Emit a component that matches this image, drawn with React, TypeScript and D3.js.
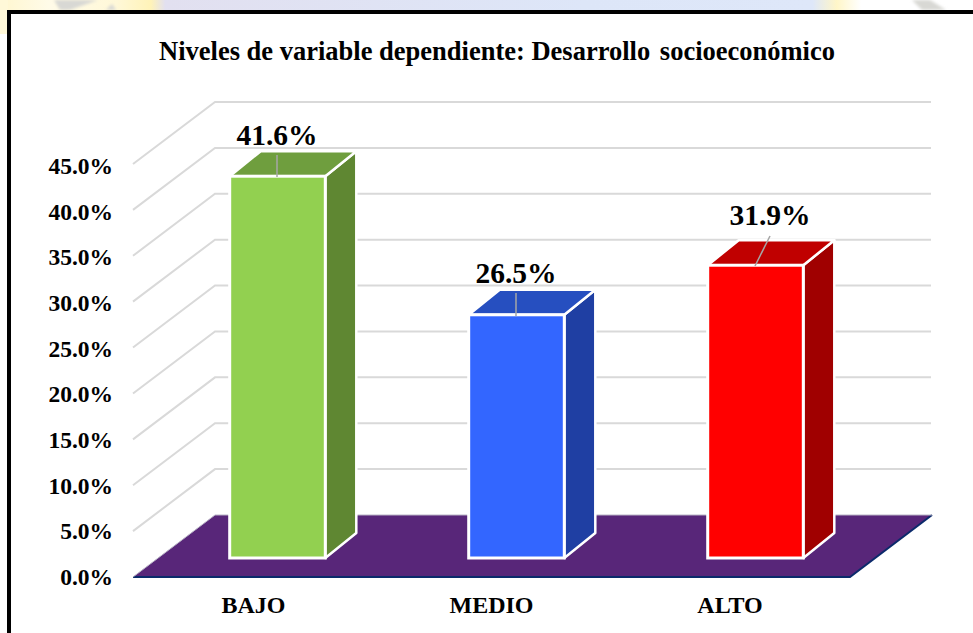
import React from "react";
import * as d3 from "d3";

const categories = ["BAJO", "MEDIO", "ALTO"];
const values = [41.6, 26.5, 31.9];
const labels = ["41.6%", "26.5%", "31.9%"];
const frontColors = ["#92d050", "#3366ff", "#ff0000"];
const topColors = ["#6f9e3e", "#264fc0", "#c00000"];
const sideColors = ["#5f8732", "#1f3fa3", "#a00000"];
const ticks = [0, 5, 10, 15, 20, 25, 30, 35, 40, 45];
const titleStart = "Niveles de variable dependiente: Desarrollo";
const titleEnd = "socioeconómico";
const font = "'Liberation Serif', 'Times New Roman', serif";

const W = 973, H = 633;
const left = 133, right = 850, baseY = 577;
const floorDx = 82, floorDy = -62;
const barOffX = 25, barOffY = -19;
const depthX = 31, depthY = -25;

const y = d3.scaleLinear().domain([0, 45]).range([baseY, 164]);
const x = d3.scaleBand<string>().domain(categories).range([left + barOffX, right + barOffX]).paddingInner(0.6).paddingOuter(0.3);
const poly = (pts: [number, number][]) => d3.line()(pts) + "Z";
const labelPos: [number, number, number, number, number, number][] = [
  [277, 145, 277, 155, 277, 177],
  [516, 283, 516, 293, 516, 316],
  [770, 225, 770, 236, 755, 266],
];
const categoryCenters = [253.5, 491.5, 730];

export default function App() {
  const floorY = y(0);
  return (
    <svg width={W} height={H} viewBox={`0 0 ${W} ${H}`} style={{ position: "fixed", left: 0, top: 0, display: "block" }}>
      <defs>
        <linearGradient id="bgStrip" x1="0" x2="1" y1="0" y2="0">
          <stop offset="0" stopColor="#fff6cf" />
          <stop offset="0.05" stopColor="#fffbe8" />
          <stop offset="0.12" stopColor="#fff8d8" />
          <stop offset="0.155" stopColor="#fff3b8" />
          <stop offset="0.17" stopColor="#e2e0f0" />
          <stop offset="0.6" stopColor="#dde6f8" />
          <stop offset="0.835" stopColor="#dee7f9" />
          <stop offset="0.86" stopColor="#fff6c8" />
          <stop offset="0.885" stopColor="#ffffff" />
          <stop offset="1" stopColor="#ffffff" />
        </linearGradient>
        <filter id="soft"><feGaussianBlur stdDeviation="1.5" /></filter>
      </defs>
      <rect width={W} height={H} fill="#ffffff" />
      <rect width={W} height={12} fill="url(#bgStrip)" />
      <rect x={0} y={0} width={8} height={34} fill="#fff8d8" />
      <g filter="url(#soft)" fill="#d8d8d4">
        <path d="M54,0 L98,0 L70,10 L60,10 Z" />
        <path d="M106,10 L112,4 L116,10 Z" />
        <path d="M912,0 L930,0 L946,10 L922,10 Z" />
      </g>
      <rect x={9} y={12} width={W} height={H} fill="#ffffff" stroke="#000000" strokeWidth={4} />

      <text x={497} y={60} textAnchor="middle" fontFamily={font} fontWeight="bold" fontSize={26.5} fill="#000">
        {titleStart}<tspan dx={3}> {titleEnd}</tspan>
      </text>

      {ticks.filter((t) => t > 0).map((t) => (
        <path key={t} d={d3.line()([[left, y(t)], [left + floorDx, y(t) + floorDy], [right + floorDx - 1, y(t) + floorDy]])!} fill="none" stroke="#d9d9d9" strokeWidth={2} />
      ))}

      <path d={poly([[left, floorY], [left + floorDx, floorY + floorDy], [right + floorDx, floorY + floorDy], [right, floorY]])} fill="#582679" />
      <path d={d3.line()([[left, floorY], [right, floorY], [right + floorDx, floorY + floorDy]])!} fill="none" stroke="#0b2a6b" strokeWidth={2} />
      <path d={d3.line()([[left, floorY], [left + floorDx, floorY + floorDy], [right + floorDx, floorY + floorDy]])!} fill="none" stroke="#b9b4c6" strokeWidth={1} />

      {ticks.map((t) => (
        <text key={t} x={113} y={y(t) + 8 + (t / 45) * 2} textAnchor="end" fontFamily={font} fontWeight="bold" fontSize={23.5} fill="#000">{t.toFixed(1)}%</text>
      ))}

      {categories.map((c, i) => {
        const x0 = x(c)!, x1 = x0 + x.bandwidth();
        const yb = baseY + barOffY;
        const yt = y(values[i]) + barOffY;
        return (
          <g key={c}>
            <path d={poly([[x1, yb], [x1 + depthX, yb + depthY], [x1 + depthX, yt + depthY], [x1, yt]])} fill={sideColors[i]} stroke="#ffffff" strokeWidth={2.5} strokeLinejoin="round" />
            <path d={poly([[x0, yt], [x0 + depthX, yt + depthY], [x1 + depthX, yt + depthY], [x1, yt]])} fill={topColors[i]} stroke="#ffffff" strokeWidth={2.5} strokeLinejoin="round" />
            <rect x={x0} y={yt} width={x.bandwidth()} height={yb - yt} fill={frontColors[i]} stroke="#ffffff" strokeWidth={3} />
            <line x1={labelPos[i][2]} y1={labelPos[i][3]} x2={labelPos[i][4]} y2={labelPos[i][5]} stroke="#a6a6a6" strokeWidth={1.5} />
            <text x={labelPos[i][0]} y={labelPos[i][1]} textAnchor="middle" fontFamily={font} fontWeight="bold" fontSize={29.5} fill="#000">{labels[i]}</text>
            <text x={categoryCenters[i]} y={613} textAnchor="middle" fontFamily={font} fontWeight="bold" fontSize={24} fill="#000">{c}</text>
          </g>
        );
      })}
    </svg>
  );
}
